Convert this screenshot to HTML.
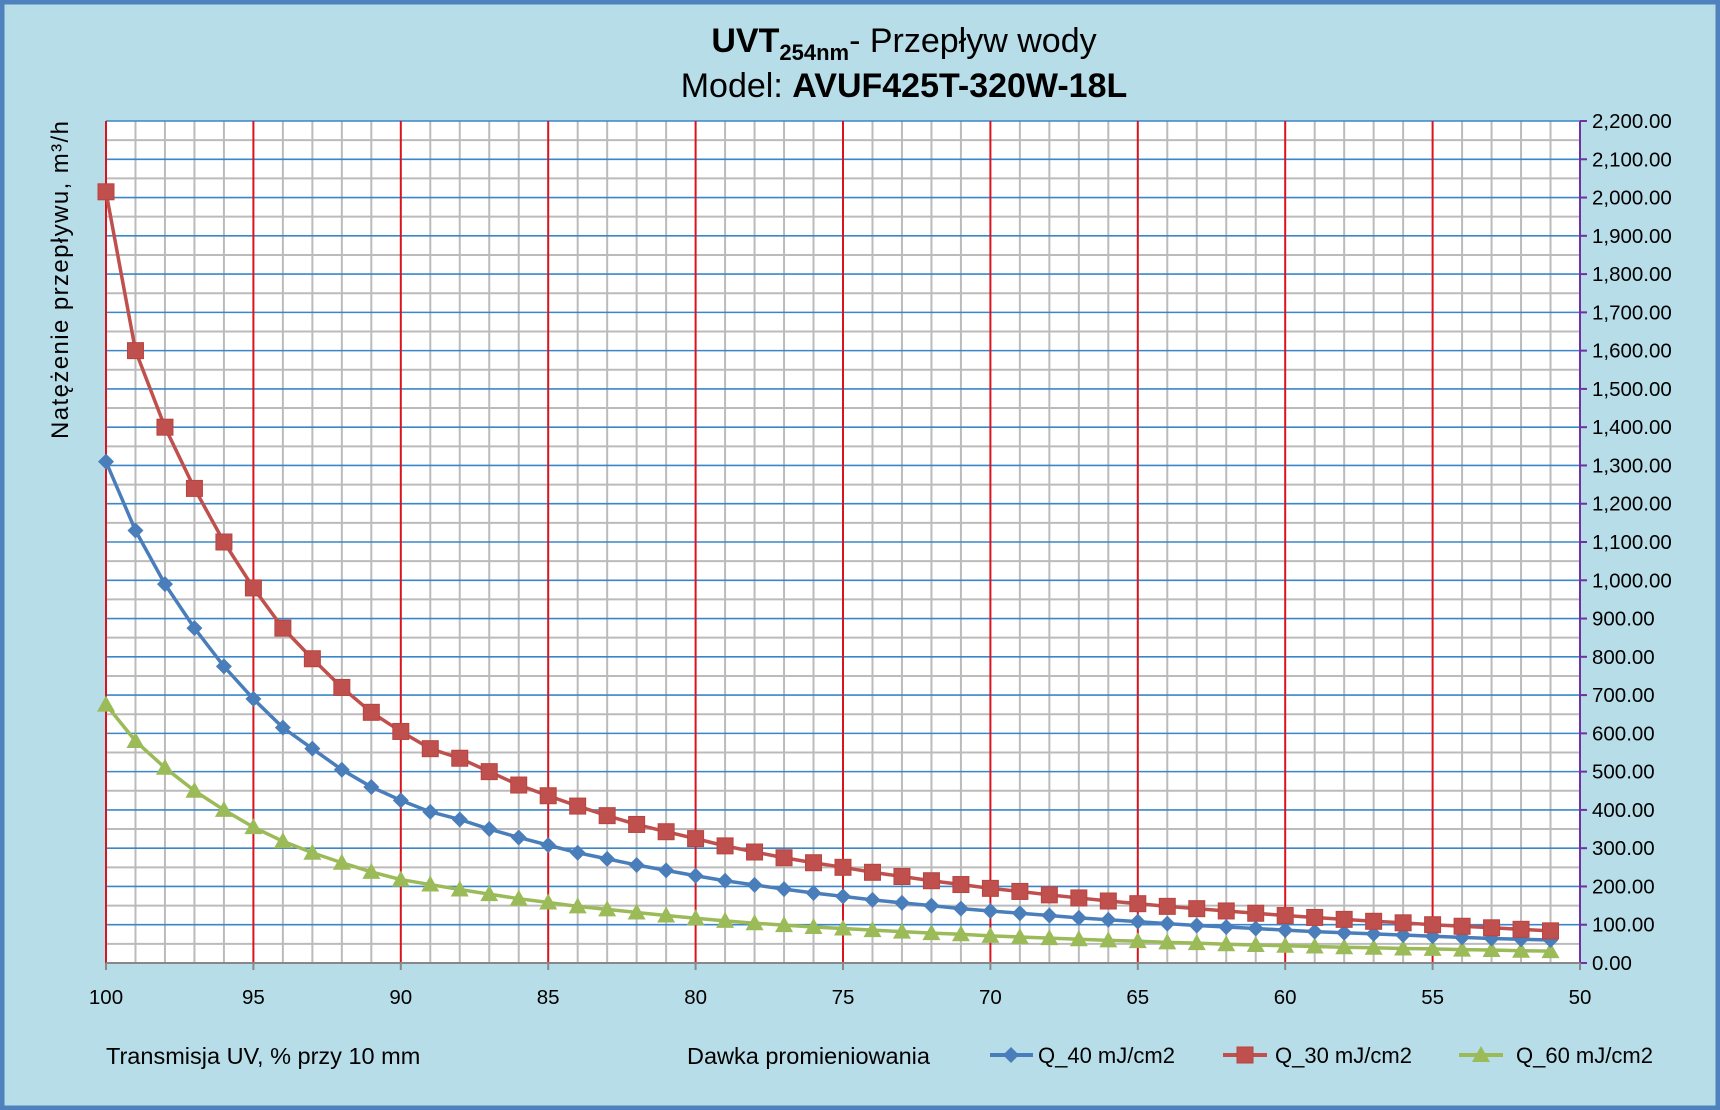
<!DOCTYPE html>
<html><head><meta charset="utf-8"><style>
html,body{margin:0;padding:0;}
body{width:1720px;height:1110px;overflow:hidden;background:#b7dde8;}
svg{display:block;font-family:"Liberation Sans",sans-serif;}
</style></head><body>
<svg id="s" width="1720" height="1110" xmlns="http://www.w3.org/2000/svg"></svg>
<script>
const s=document.getElementById('s');
const L=106,R=1580,T=121,B=963;
let h='';
h+=`<rect x="2" y="2" width="1716" height="1106" fill="#b7dde8" stroke="#4f81bd" stroke-width="5"/>`;
h+=`<rect x="${L}" y="${T}" width="${R-L}" height="${B-T}" fill="#fff"/>`;
const X=v=>L+(100-v)*(R-L)/50, Y=v=>B-v*(B-T)/2200;
for(let i=0;i<=44;i++){const y=B-i*(B-T)/44; if(i%2) h+=`<line x1="${L}" x2="${R}" y1="${y}" y2="${y}" stroke="#bbb" stroke-width="2"/>`;}
for(let i=0;i<=50;i++){const x=L+i*(R-L)/50; if(i%5) h+=`<line x1="${x}" x2="${x}" y1="${T}" y2="${B}" stroke="#bbb" stroke-width="2"/>`;}
for(let i=0;i<=22;i++){const y=B-i*(B-T)/22; h+=`<line x1="${L}" x2="${R}" y1="${y}" y2="${y}" stroke="#3a86c8" stroke-width="1.6"/>`;
 h+=`<line x1="${R}" x2="${R+7}" y1="${y}" y2="${y}" stroke="#7030a0" stroke-width="2"/>`;
 h+=`<text x="${R+12}" y="${y+7}" font-size="20.5" fill="#000">${(i*100).toLocaleString('en-US')}.00</text>`;}
for(let i=0;i<=10;i++){const x=L+i*(R-L)/10; if(i<10)h+=`<line x1="${x}" x2="${x}" y1="${T}" y2="${B}" stroke="#d9141e" stroke-width="2"/>`;
 h+=`<line x1="${x}" x2="${x}" y1="${B}" y2="${B+7}" stroke="#888" stroke-width="2"/>`;
 h+=`<text x="${x}" y="${B+41}" font-size="20.5" text-anchor="middle">${100-i*5}</text>`;}
h+=`<line x1="${R}" x2="${R}" y1="${T}" y2="${B}" stroke="#7030a0" stroke-width="2"/>`;
h+=`<line x1="${L}" x2="${R}" y1="${B}" y2="${B}" stroke="#888" stroke-width="2"/>`;
const q30=[2015,1600,1400,1240,1100,980,875,795,720,655,605,560,535,500,465,437,410,385,362,343,325,306,290,275,262,250,237,226,215,205,195,187,178,170,162,155,148,142,136,130,124,119,114,109,105,100,96,92,88,84];
const q40=[1310,1130,990,875,775,690,615,560,505,460,425,395,375,350,328,308,288,272,256,242,228,215,204,193,183,174,165,157,150,142,136,130,124,118,113,108,103,98,94,90,86,82,79,76,73,70,67,64,62,60];
const q60=[675,580,510,450,400,355,318,288,262,238,218,205,192,180,168,158,148,140,132,124,117,110,104,99,94,90,86,82,78,75,71,68,65,62,59,57,54,52,49,47,45,43,41,40,38,37,35,34,32,31];
function pts(a){return a.map((v,i)=>[X(100-i),Y(v)]);}
function line(a,c){return `<polyline points="${pts(a).map(p=>p.join(',')).join(' ')}" fill="none" stroke="${c}" stroke-width="3.5" stroke-linejoin="round"/>`;}
const dia=(x,y,c)=>`<polygon points="${x},${y-8} ${x+8},${y} ${x},${y+8} ${x-8},${y}" fill="${c}"/>`;
const sq=(x,y,c)=>`<rect x="${x-8}" y="${y-8}" width="16" height="16" fill="${c}" stroke="#b84440" stroke-width="1"/>`;
const tri=(x,y,c)=>`<polygon points="${x},${y-9} ${x+9},${y+7} ${x-9},${y+7}" fill="${c}"/>`;
h+=line(q60,'#9bbb59');pts(q60).forEach(p=>h+=tri(p[0],p[1],'#9bbb59'));
h+=line(q40,'#4a7ebb');pts(q40).forEach(p=>h+=dia(p[0],p[1],'#4a7ebb'));
h+=line(q30,'#c0504d');pts(q30).forEach(p=>h+=sq(p[0],p[1],'#c0504d'));
h+=`<text x="904" y="52" font-size="34" text-anchor="middle"><tspan font-weight="bold">UVT</tspan><tspan font-weight="bold" font-size="22" dy="8">254nm</tspan><tspan dy="-8">- Przepływ wody</tspan></text>`;
h+=`<text x="904" y="97" font-size="34" text-anchor="middle">Model: <tspan font-weight="bold">AVUF425T-320W-18L</tspan></text>`;
h+=`<text transform="translate(68,280) rotate(-90)" font-size="24" text-anchor="middle" textLength="318">Natężenie przepływu, m³/h</text>`;
h+=`<text x="106" y="1064" font-size="23.5">Transmisja UV, % przy 10 mm</text>`;
h+=`<text x="687" y="1064" font-size="23.5">Dawka promieniowania</text>`;
h+=`<line x1="990" x2="1033" y1="1055" y2="1055" stroke="#4a7ebb" stroke-width="4"/>`+dia(1011,1055,'#4a7ebb');
h+=`<text x="1038" y="1063" font-size="22">Q_40 mJ/cm2</text>`;
h+=`<line x1="1223" x2="1267" y1="1055" y2="1055" stroke="#c0504d" stroke-width="4"/>`+sq(1245,1055,'#c0504d');
h+=`<text x="1275" y="1063" font-size="22">Q_30 mJ/cm2</text>`;
h+=`<line x1="1459" x2="1503" y1="1055" y2="1055" stroke="#9bbb59" stroke-width="4"/>`+tri(1481,1055,'#9bbb59');
h+=`<text x="1516" y="1063" font-size="22">Q_60 mJ/cm2</text>`;
s.innerHTML=h;
</script>
</body></html>
